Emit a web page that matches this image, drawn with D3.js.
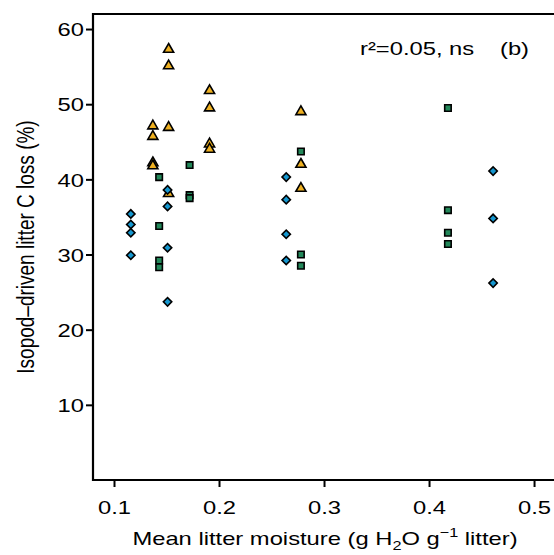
<!DOCTYPE html>
<html>
<head>
<meta charset="utf-8">
<script src="https://cdn.jsdelivr.net/npm/d3@7"></script>
<style>
  body { margin: 0; background: #fff; }
  text { font-family: "Liberation Sans", Arial, sans-serif; fill: #000; }
</style>
</head>
<body>
<script>
// moisture (x) and C loss (y) per litter type
const triX = [0.137, 0.137, 0.137, 0.137, 0.152, 0.152, 0.152, 0.152, 0.191, 0.191, 0.191, 0.191, 0.278, 0.278, 0.278];
const triY = [47.1, 45.7, 42.2, 41.8, 57.3, 55.1, 46.9, 38.1, 51.8, 49.5, 44.7, 44.0, 49.0, 42.0, 38.8];

const sqX = [0.143, 0.143, 0.143, 0.143, 0.172, 0.172, 0.172, 0.278, 0.278, 0.278, 0.418, 0.418, 0.418, 0.418];
const sqY = [40.3, 33.8, 29.2, 28.3, 41.9, 37.9, 37.5, 43.7, 30.0, 28.5, 49.5, 35.9, 32.9, 31.4];

const diaX = [0.116, 0.116, 0.116, 0.116, 0.151, 0.151, 0.151, 0.151, 0.264, 0.264, 0.264, 0.264, 0.461, 0.461, 0.461];
const diaY = [35.4, 34.0, 32.9, 29.9, 38.6, 36.4, 30.9, 23.7, 40.3, 37.3, 32.7, 29.2, 41.1, 34.8, 26.2];

const xTicks = [0.1, 0.2, 0.3, 0.4, 0.5];
const yTicks = [10, 20, 30, 40, 50, 60];

const W = 554, H = 555;
const margin = {top: 14, left: 93, bottom: 75};
const fs = 19, sx = 1.25;   // the original figure is stretched sideways

const svg = d3.select("body").append("svg")
    .attr("width", W)
    .attr("height", H);

const x = d3.scaleLinear().domain([0.08, 0.5 + 0.019]).range([margin.left, W]);
const y = d3.scaleLinear().domain([0, 62]).range([H - margin.bottom, margin.top]);

// axes
const xAxis = svg.append("g")
    .attr("transform", `translate(0,${H - margin.bottom})`)
    .call(d3.axisBottom(x).tickValues(xTicks).tickSize(7).tickFormat(d3.format(".1f")));
const yAxis = svg.append("g")
    .attr("transform", `translate(${margin.left},0)`)
    .call(d3.axisLeft(y).tickValues(yTicks).tickSize(7));

[xAxis, yAxis].forEach(a => {
  a.select(".domain").remove();
  a.selectAll(".tick line").attr("stroke", "#000").attr("stroke-width", 2);
  a.selectAll(".tick text").style("font-size", fs + "px").attr("fill", "#000");
});
xAxis.selectAll(".tick text")
    .attr("y", null).attr("dy", null)
    .attr("transform", `translate(0,34) scale(${sx},1)`);
yAxis.selectAll(".tick text")
    .attr("x", null)
    .attr("dy", "0.35em")
    .attr("transform", `translate(-9,0) scale(${sx},1)`);

// box (right side runs off the page)
svg.append("path")
    .attr("d", `M${W + 10},${y(62)}H${margin.left}V${y(0)}H${W + 10}`)
    .attr("fill", "none")
    .attr("stroke", "#000")
    .attr("stroke-width", 2.2);

// points
function drawSeries(xs, ys, type, size, fill, rot) {
  svg.append("g").selectAll("path")
    .data(xs.map((v, i) => [v, ys[i]]))
    .join("path")
      .attr("transform", d => `translate(${x(d[0])},${y(d[1])}) rotate(${rot})`)
      .attr("d", d3.symbol().type(type).size(size))
      .attr("fill", fill)
      .attr("stroke", "#000")
      .attr("stroke-width", 1.6);
}

drawSeries(sqX, sqY, d3.symbolSquare, 42, "#23885a", 0);
drawSeries(triX, triY, d3.symbolTriangle, 44, "#eeb021", 0);
drawSeries(diaX, diaY, d3.symbolSquare, 35, "#1597cf", 45);

// labels
function label(px, py, str, anchor) {
  return svg.append("text")
    .attr("transform", `translate(${px},${py}) scale(${sx},1)`)
    .attr("text-anchor", anchor || "start")
    .style("font-size", fs + "px")
    .text(str);
}
label(360, 55, "r²=0.05, ns");
label(500, 55, "(b)");

svg.append("text")
    .attr("transform", `translate(34,${(y(0) + y(62)) / 2}) scale(${sx},1) rotate(-90)`)
    .attr("text-anchor", "middle")
    .style("font-size", fs + "px")
    .text("Isopod\u2013driven litter C loss (%)");

const xt = label(325, 545, "", "middle");
xt.append("tspan").text("Mean litter moisture (g H");
xt.append("tspan").attr("dy", 5).style("font-size", "13px").text("2");
xt.append("tspan").attr("dy", -5).text("O g");
xt.append("tspan").attr("dy", -8).style("font-size", "13px").text("\u22121");
xt.append("tspan").attr("dy", 8).text(" litter)");
</script>
</body>
</html>
